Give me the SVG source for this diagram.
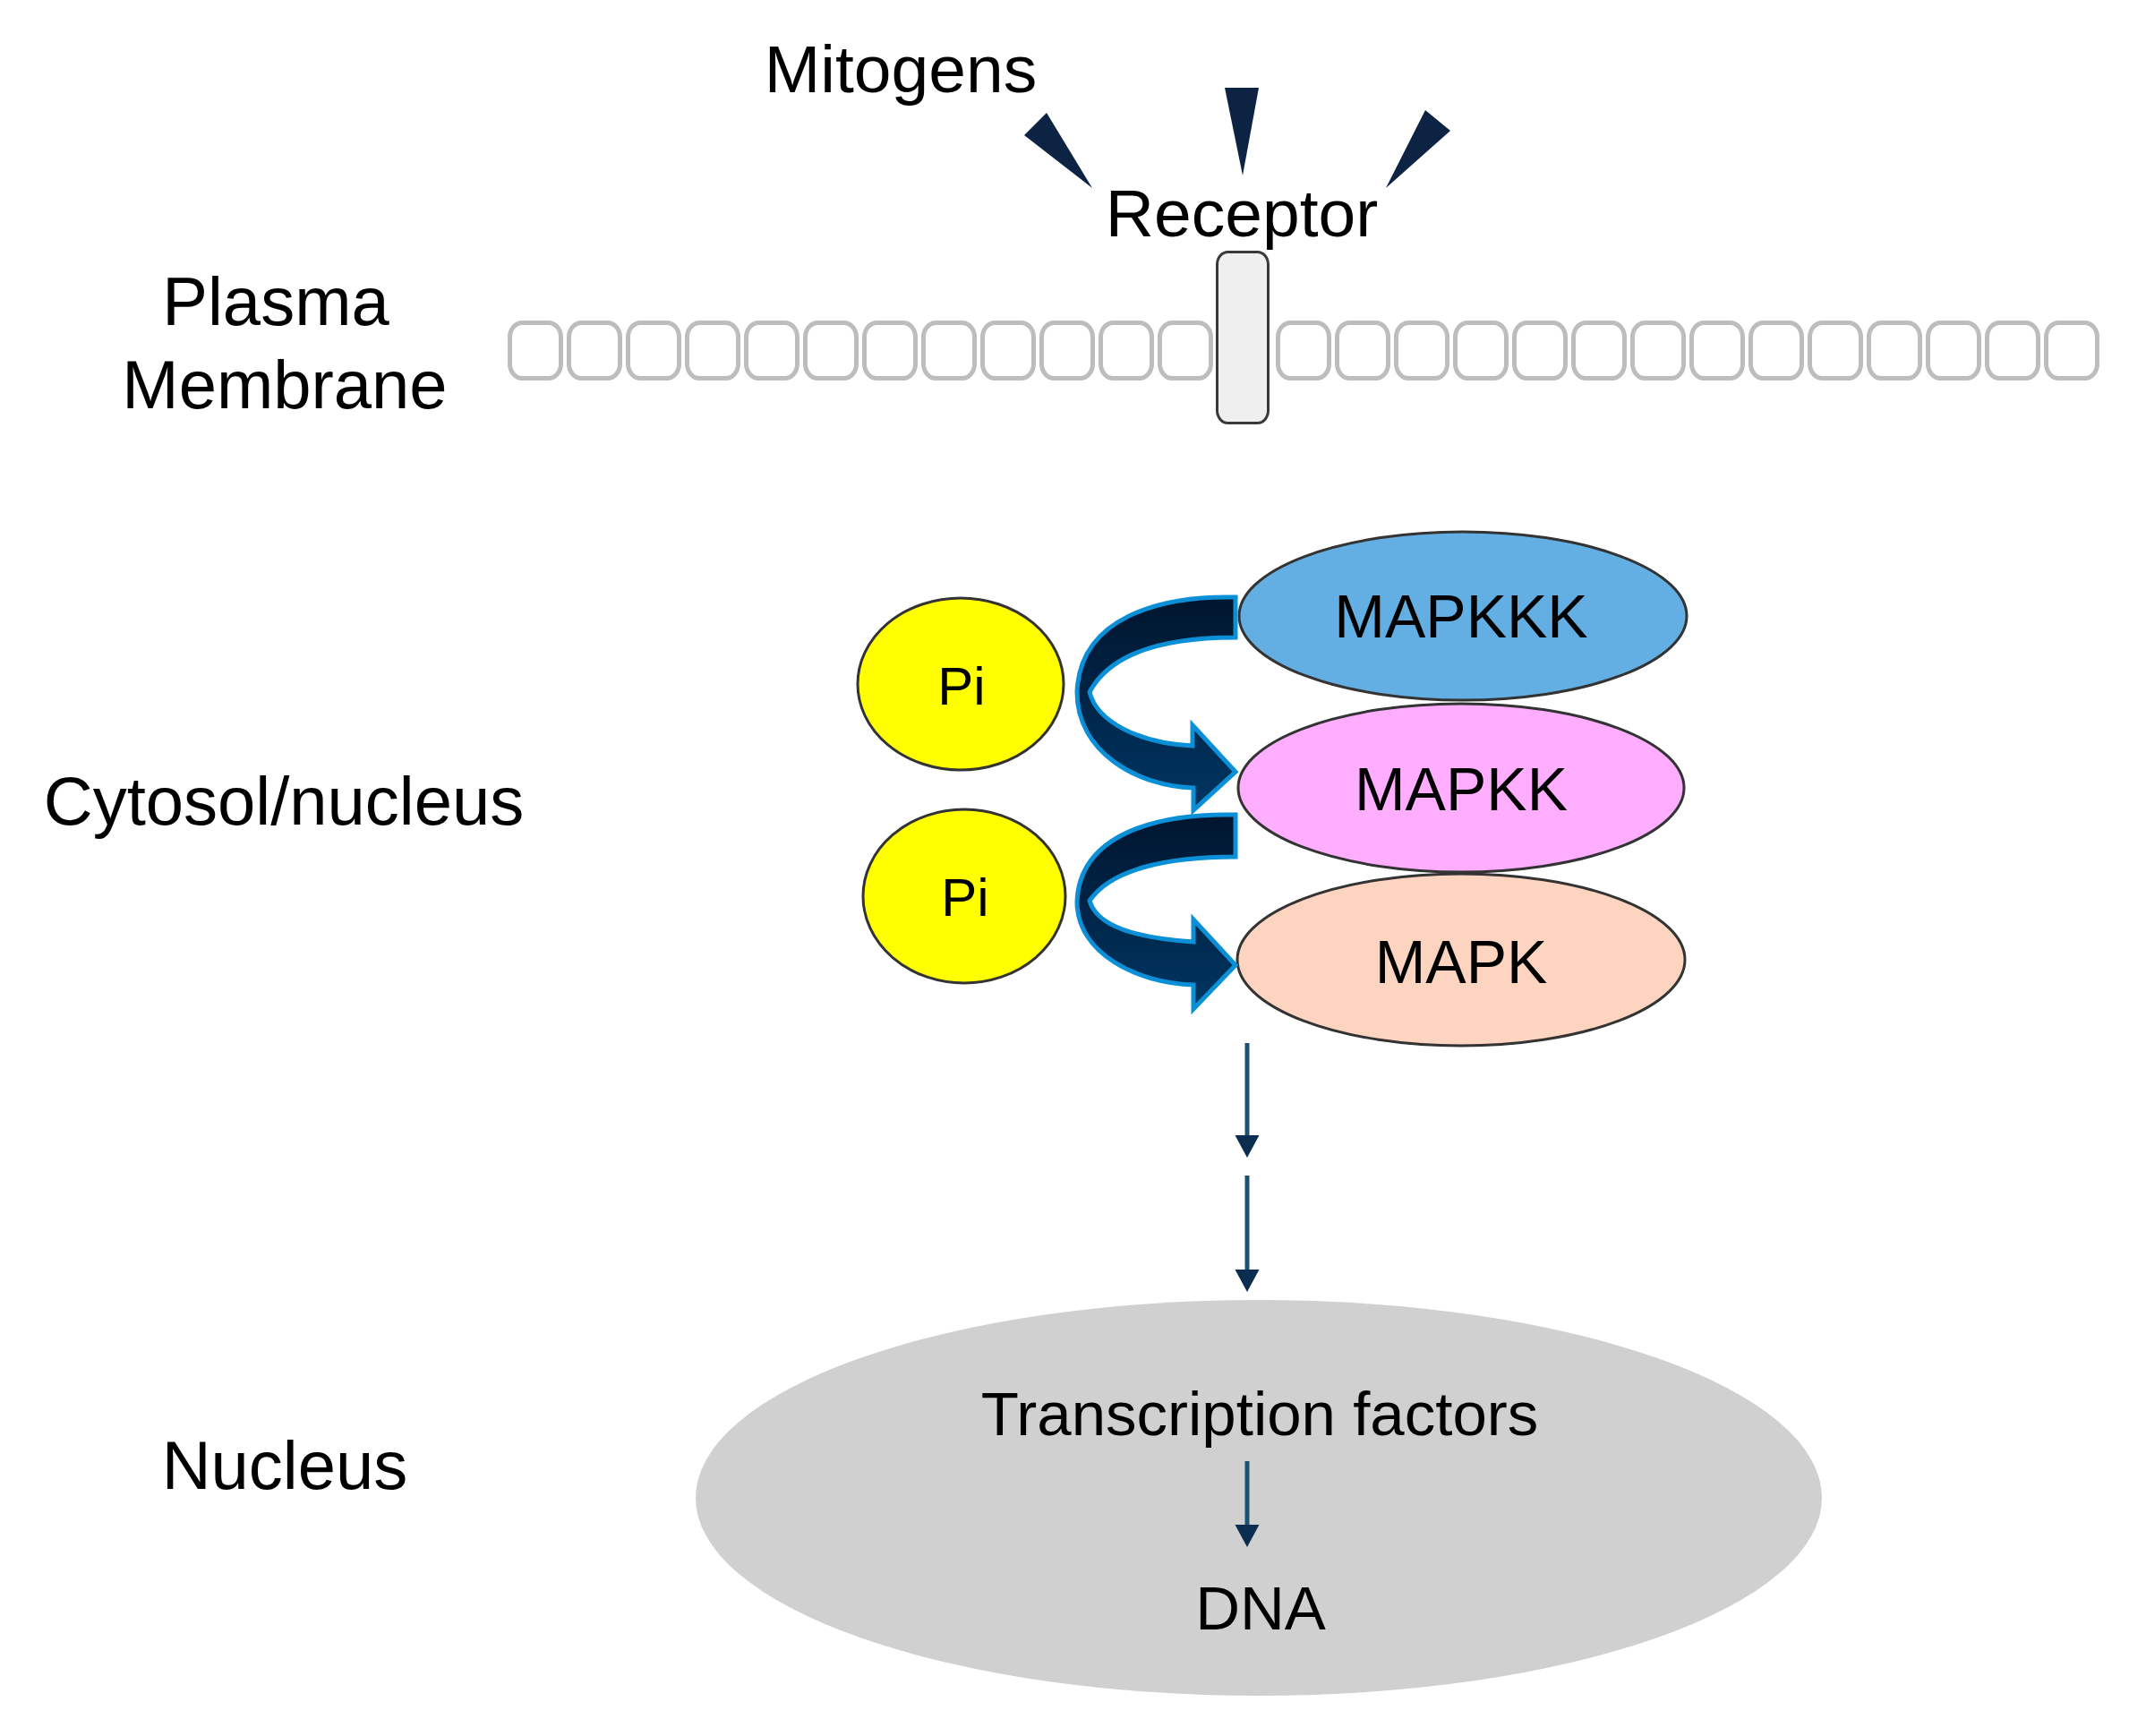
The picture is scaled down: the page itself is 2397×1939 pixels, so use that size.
<svg xmlns="http://www.w3.org/2000/svg" width="2397" height="1939" viewBox="0 0 2397 1939">
  <style>
    .lbl { font-family: "Liberation Sans", Arial, sans-serif; fill: #000; }
    .side { font-size: 76px; text-anchor: middle; }
    .top { font-size: 75px; text-anchor: middle; }
    .enz { font-size: 68px; text-anchor: middle; }
    .pi { font-size: 60px; text-anchor: middle; }
    .nuc { font-size: 69px; text-anchor: middle; }
    .cell { fill: #ffffff; stroke: #bdbdbd; stroke-width: 5; }
    .kin { stroke: #333333; stroke-width: 3; }
    .ligand { fill: #0c2343; }
    .curve { fill: url(#curveFill); stroke: #0b8fd6; stroke-width: 5; stroke-linejoin: miter; }
    .flow { stroke: #1b5272; stroke-width: 5; fill: none; marker-end: url(#head); }
  </style>
  <defs>
    <linearGradient id="curveFill" x1="0" y1="0" x2="0" y2="1">
      <stop offset="0" stop-color="#00152e"/>
      <stop offset="1" stop-color="#003663"/>
    </linearGradient>
    <marker id="head" markerUnits="userSpaceOnUse" viewBox="0 -14 25 28" markerWidth="25" markerHeight="28" refX="2" refY="0" orient="auto">
      <path d="M0,-13.5 L25,0 L0,13.5 Z" fill="#0a2d50"/>
    </marker>
  </defs>

  <rect x="0" y="0" width="2397" height="1939" fill="#ffffff"/>

  <!-- Left labels -->
  <g id="label-plasma-membrane">
    <text class="lbl side" x="308" y="363">Plasma</text>
    <text class="lbl side" x="318" y="456">Membrane</text>
  </g>
  <g id="label-cytosol">
    <text class="lbl side" x="317" y="921">Cytosol/nucleus</text>
  </g>
  <g id="label-nucleus">
    <text class="lbl side" x="318" y="1663">Nucleus</text>
  </g>

  <!-- Membrane -->
  <g id="membrane">
    <rect class="cell" x="569.5" y="360.5" width="57" height="62" rx="14" ry="16"/>
    <rect class="cell" x="635.5" y="360.5" width="57" height="62" rx="14" ry="16"/>
    <rect class="cell" x="701.5" y="360.5" width="57" height="62" rx="14" ry="16"/>
    <rect class="cell" x="767.5" y="360.5" width="57" height="62" rx="14" ry="16"/>
    <rect class="cell" x="833.5" y="360.5" width="57" height="62" rx="14" ry="16"/>
    <rect class="cell" x="899.5" y="360.5" width="57" height="62" rx="14" ry="16"/>
    <rect class="cell" x="965.5" y="360.5" width="57" height="62" rx="14" ry="16"/>
    <rect class="cell" x="1031.5" y="360.5" width="57" height="62" rx="14" ry="16"/>
    <rect class="cell" x="1097.5" y="360.5" width="57" height="62" rx="14" ry="16"/>
    <rect class="cell" x="1163.5" y="360.5" width="57" height="62" rx="14" ry="16"/>
    <rect class="cell" x="1229.5" y="360.5" width="57" height="62" rx="14" ry="16"/>
    <rect class="cell" x="1295.5" y="360.5" width="57" height="62" rx="14" ry="16"/>
    <rect class="cell" x="1427.5" y="360.5" width="57" height="62" rx="14" ry="16"/>
    <rect class="cell" x="1493.5" y="360.5" width="57" height="62" rx="14" ry="16"/>
    <rect class="cell" x="1559.5" y="360.5" width="57" height="62" rx="14" ry="16"/>
    <rect class="cell" x="1625.5" y="360.5" width="57" height="62" rx="14" ry="16"/>
    <rect class="cell" x="1691.5" y="360.5" width="57" height="62" rx="14" ry="16"/>
    <rect class="cell" x="1757.5" y="360.5" width="57" height="62" rx="14" ry="16"/>
    <rect class="cell" x="1823.5" y="360.5" width="57" height="62" rx="14" ry="16"/>
    <rect class="cell" x="1889.5" y="360.5" width="57" height="62" rx="14" ry="16"/>
    <rect class="cell" x="1955.5" y="360.5" width="57" height="62" rx="14" ry="16"/>
    <rect class="cell" x="2021.5" y="360.5" width="57" height="62" rx="14" ry="16"/>
    <rect class="cell" x="2087.5" y="360.5" width="57" height="62" rx="14" ry="16"/>
    <rect class="cell" x="2153.5" y="360.5" width="57" height="62" rx="14" ry="16"/>
    <rect class="cell" x="2219.5" y="360.5" width="57" height="62" rx="14" ry="16"/>
    <rect class="cell" x="2285.5" y="360.5" width="57" height="62" rx="14" ry="16"/>
  </g>

  <!-- Receptor -->
  <g id="receptor">
    <rect x="1359.5" y="281.5" width="57" height="191" rx="12" ry="14" fill="#efefef" stroke="#3a3a3a" stroke-width="3"/>
    <text class="lbl top" x="1387" y="264">Receptor</text>
  </g>

  <!-- Mitogens -->
  <g id="mitogens">
    <text class="lbl top" x="1006" y="103">Mitogens</text>
    <polygon class="ligand" points="1169,126 1144,151 1220,210"/>
    <polygon class="ligand" points="1368,98 1406,98 1388,196"/>
    <polygon class="ligand" points="1592,123 1620,146 1548,210"/>
  </g>

  <!-- Kinases -->
  <g id="mapkkk">
    <ellipse class="kin" cx="1634" cy="688" rx="250" ry="94" fill="#63aee2"/>
    <text class="lbl enz" x="1632" y="712">MAPKKK</text>
  </g>
  <g id="mapkk">
    <ellipse class="kin" cx="1632" cy="880" rx="249" ry="94" fill="#ffaeff"/>
    <text class="lbl enz" x="1632" y="905">MAPKK</text>
  </g>
  <g id="mapk">
    <ellipse class="kin" cx="1632" cy="1072" rx="250" ry="96" fill="#fdd4c0"/>
    <text class="lbl enz" x="1632" y="1098">MAPK</text>
  </g>
  <g id="pi-1">
    <ellipse class="kin" cx="1073" cy="764" rx="115" ry="96" fill="#ffff00"/>
    <text class="lbl pi" x="1074" y="787">Pi</text>
  </g>
  <g id="pi-2">
    <ellipse class="kin" cx="1077" cy="1001" rx="113" ry="97" fill="#ffff00"/>
    <text class="lbl pi" x="1078" y="1023">Pi</text>
  </g>

  <!-- Nucleus -->
  <g id="nucleus">
    <ellipse cx="1406" cy="1673" rx="629" ry="221" fill="#d0d0d0"/>
    <text class="lbl nuc" x="1407" y="1603">Transcription factors</text>
    <text class="lbl nuc" x="1408" y="1820">DNA</text>
  </g>

  <!-- Connectors -->
  <g id="connectors">
    <path class="curve" d="M1380,667 C1295,665 1206,690 1203,773 C1203,840 1270,878 1333,880 L1333,905 L1380,862 L1332,810 L1332,833 C1270,830 1225,805 1217,773 C1240,730 1300,712 1380,712 Z"/>
    <path class="curve" d="M1380,910 C1292,908 1206,932 1203,1007 C1203,1065 1270,1098 1333,1100 L1333,1127 L1380,1078 L1333,1027 L1333,1052 C1270,1048 1225,1035 1217,1006 C1240,972 1300,957 1380,957 Z"/>
    <line class="flow" x1="1393" y1="1165" x2="1393" y2="1270"/>
    <line class="flow" x1="1393" y1="1313" x2="1393" y2="1420"/>
    <line class="flow" x1="1393" y1="1632" x2="1393" y2="1705"/>
  </g>
</svg>
